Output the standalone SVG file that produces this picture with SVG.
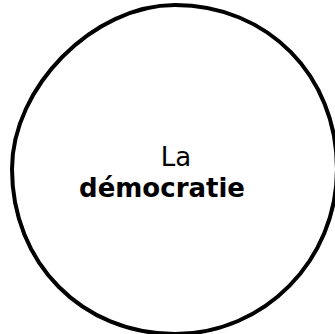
<svg xmlns="http://www.w3.org/2000/svg" width="335" height="334" viewBox="0 0 335 334">
<style>
.shape{fill:#ffffff;stroke:#000000;stroke-width:4}
.t{font-family:"DejaVu Sans",Verdana,sans-serif;font-size:26px;fill:#000000;text-anchor:middle}
.b{font-weight:bold}
</style>
<rect width="335" height="334" fill="#ffffff"/>
<g id="connectors"/>
<g id="node-democratie">
<path class="shape" d="M 12 169 C 12 87 93.5 5 175 5 C 267.3 5 337 75.5 337 169 C 337 260.1 264.5 334 175 334 C 82.1 334 12 263 12 169 Z"/>
<text class="t" x="176" y="166">La</text>
<text class="t b" x="162" y="197">démocratie</text>
</g>
</svg>
